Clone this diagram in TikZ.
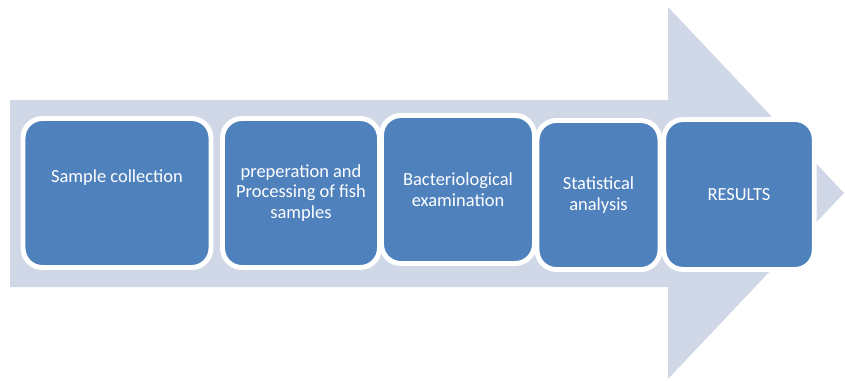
\documentclass[tikz,border=0pt]{standalone}
\usepackage{fontspec}
\setmainfont{Carlito}
\definecolor{arrowbg}{HTML}{D0D8E8}
\definecolor{stagefill}{HTML}{4F81BD}

\begin{document}
\begin{tikzpicture}[x=0.02cm, y=-0.02cm,
        stage/.style={draw=white, line width=2.8pt, fill=stagefill, rounded corners=11pt,
            text=white, align=center, font=\fontsize{10.5}{11.6}\selectfont, inner sep=0pt},
        stagetext/.style={text=white, align=center, font=\fontsize{10.5}{11.6}\selectfont}]
        \useasboundingbox (0,0) rectangle (845,380);

        % big arrow
        \fill[arrowbg] (10,100) -- (668,100) -- (668,7) -- (844,193) -- (668,379)
            -- (668,287) -- (10,287) -- cycle;

        % stages
        \node[stage, minimum width=3.76cm, minimum height=2.98cm] (collect) at (117,193) {};
        \node[stagetext] (collecttxt) at (117,178) {Sample collection};
        \node[stage, minimum width=3.14cm, minimum height=2.98cm] (prep) at (301,193)
            {preperation and\\Processing of fish\\samples};
        \node[stage, minimum width=3.06cm, minimum height=2.96cm] (bact) at (458,189.5)
            {Bacteriological\\examination};
        \node[stage, minimum width=2.46cm, minimum height=2.98cm] (stat) at (598.5,195)
            {Statistical\\analysis};
        \node[stage, minimum width=3.01cm, minimum height=3.00cm] (res) at (739,194.5)
            {RESULTS};
    \end{tikzpicture}
\end{document}
